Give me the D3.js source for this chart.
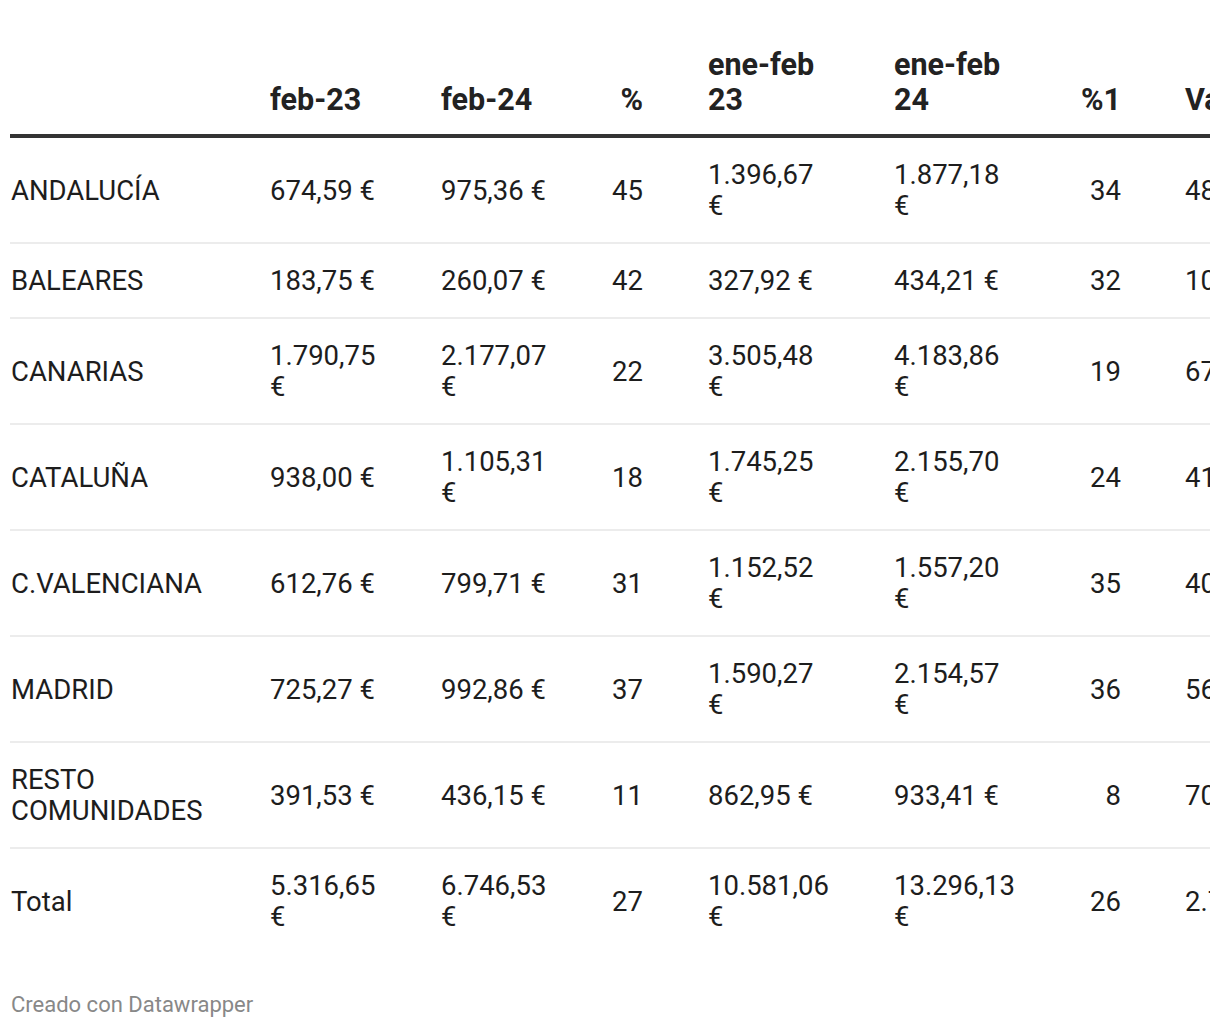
<!DOCTYPE html>
<html>
<head>
<meta charset="utf-8">
<script src="https://cdn.jsdelivr.net/npm/d3@7"></script>
<style>
  html, body { margin: 0; padding: 0; background: #fff; overflow: hidden; }
  svg { display: block; }
</style>
</head>
<body>
<script>
// ---- data ----
const headers = ["", "feb-23", "feb-24", "%", "ene-feb 23", "ene-feb 24", "%1", "Variación"];
const regions = ["ANDALUCÍA", "BALEARES", "CANARIAS", "CATALUÑA", "C.VALENCIANA", "MADRID", "RESTO COMUNIDADES", "Total"];
const feb23 = ["674,59 €", "183,75 €", "1.790,75 €", "938,00 €", "612,76 €", "725,27 €", "391,53 €", "5.316,65 €"];
const feb24 = ["975,36 €", "260,07 €", "2.177,07 €", "1.105,31 €", "799,71 €", "992,86 €", "436,15 €", "6.746,53 €"];
const pctFeb = [45, 42, 22, 18, 31, 37, 11, 27];
const eneFeb23 = ["1.396,67 €", "327,92 €", "3.505,48 €", "1.745,25 €", "1.152,52 €", "1.590,27 €", "862,95 €", "10.581,06 €"];
const eneFeb24 = ["1.877,18 €", "434,21 €", "4.183,86 €", "2.155,70 €", "1.557,20 €", "2.154,57 €", "933,41 €", "13.296,13 €"];
const pctEneFeb = [34, 32, 19, 24, 35, 36, 8, 26];
const variacion = ["480,51 €", "106,29 €", "678,38 €", "410,45 €", "404,68 €", "564,30 €", "70,46 €", "2.715,07 €"];
const footer = "Creado con Datawrapper";

// ---- layout ----
const W = 1220, H = 1028, clipW = 1210;
const colKeys = d3.range(headers.length);
const colX = d3.scaleOrdinal().domain(colKeys).range([11, 270, 441, 643, 708, 894, 1121, 1185]);
const colAlign = d3.scaleOrdinal().domain(colKeys).range(["start", "start", "start", "end", "start", "start", "end", "start"]);
const colMax = d3.scaleOrdinal().domain(colKeys).range([240, 118, 118, 80, 118, 118, 80, 400]);

const bodyFont = 27.5, headFont = 30.5, lineH = 31, headLineH = 35, pad = 21, sepW = 2;
const textColor = "#1d1d1d";

const svg = d3.select("body").append("svg").attr("width", W).attr("height", H)
  .style("font-family", "Roboto, 'Noto Sans', sans-serif");

svg.append("defs").append("clipPath").attr("id", "clip")
  .append("rect").attr("x", 0).attr("y", 0).attr("width", clipW).attr("height", H);
const root = svg.append("g").attr("clip-path", "url(#clip)");

// measurement helper
const meas = svg.append("text").attr("x", -9999).attr("y", -9999);
function wrap(str, size, weight, maxW) {
  meas.attr("font-size", size).attr("font-weight", weight);
  const words = String(str).split(" ");
  const lines = [];
  let cur = "";
  words.forEach(w => {
    const test = cur ? cur + " " + w : w;
    meas.text(test);
    if (cur && meas.node().getComputedTextLength() > maxW) {
      lines.push(cur);
      cur = w;
    } else cur = test;
  });
  if (cur) lines.push(cur);
  return lines;
}

// ---- header ----
const headBase = 110;
const gHead = root.append("g");
headers.forEach((h, i) => {
  if (!h) return;
  const lines = wrap(h, headFont, 700, colMax(i));
  const t = gHead.append("text")
    .attr("font-size", headFont).attr("font-weight", 700).attr("fill", "#222")
    .attr("text-anchor", colAlign(i));
  lines.forEach((ln, k) => {
    t.append("tspan").attr("x", colX(i))
      .attr("y", headBase - (lines.length - 1 - k) * headLineH).text(ln);
  });
});
root.append("rect").attr("x", 10).attr("y", 134).attr("width", W).attr("height", 4).attr("fill", "#333");

// ---- body ----
const rows = regions.map((r, i) => [r, feb23[i], feb24[i], pctFeb[i], eneFeb23[i], eneFeb24[i], pctEneFeb[i], variacion[i]]);
let y = 138;
const gBody = root.append("g");
rows.forEach((row, ri) => {
  const wrapped = row.map((v, ci) => wrap(v, bodyFont, 400, colMax(ci)));
  const nLines = d3.max(wrapped, d => d.length);
  const h = nLines * lineH + 2 * pad;
  const cy = y + h / 2;
  wrapped.forEach((lines, ci) => {
    const t = gBody.append("text").attr("font-size", bodyFont).attr("fill", textColor)
      .attr("text-anchor", colAlign(ci));
    lines.forEach((ln, k) => {
      t.append("tspan").attr("x", colX(ci))
        .attr("y", cy + (k - (lines.length - 1) / 2) * lineH + 9.6).text(ln);
    });
  });
  y += h;
  if (ri < rows.length - 1) {
    gBody.append("rect").attr("x", 10).attr("y", y).attr("width", W).attr("height", sepW).attr("fill", "#ececec");
    y += sepW;
  }
});
meas.remove();

// ---- footer ----
svg.append("text").attr("x", 11).attr("y", 1012).attr("font-size", 22).attr("fill", "#888").text(footer);
</script>
</body>
</html>
